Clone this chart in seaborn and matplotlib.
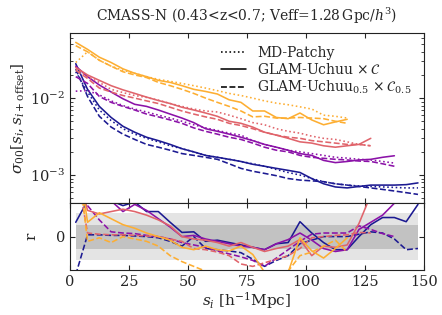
import numpy as np
import pandas as pd
import matplotlib
matplotlib.use("Agg")
import matplotlib.pyplot as plt
import seaborn as sns

sns.set_style("ticks")
plt.rcParams["font.family"] = ["DejaVu Serif"]
plt.rcParams["mathtext.fontset"] = "dejavuserif"
plt.rcParams["xtick.direction"] = "in"
plt.rcParams["ytick.direction"] = "in"
plt.rcParams["axes.edgecolor"] = "#222222"

# bin centres, one colour per offset (shorter curves for larger offsets)
s_blue = np.arange(2.5, 150, 5)
s_purple = np.arange(2.5, 140, 5)
s_pink = np.arange(2.5, 130, 5)
s_orange = np.arange(2.5, 120, 5)

colors = ["#1c1a92", "#8b12a8", "#e0646b", "#fdae32"]

# sigma_00 values
blue_patchy = [0.022, 0.012, 0.0070, 0.0051, 0.0040, 0.0034, 0.0030, 0.0027, 0.0024, 0.0022,
               0.0020, 0.0018, 0.0017, 0.0016, 0.0015, 0.00140, 0.00130, 0.00118, 0.00108, 0.00100,
               0.00090, 0.00082, 0.00077, 0.00074, 0.00072, 0.00071, 0.00070, 0.00069, 0.00068, 0.00068]
blue_glam = [0.028, 0.013, 0.0078, 0.0056, 0.0043, 0.0036, 0.0031, 0.0028, 0.0025, 0.0022,
             0.0020, 0.0018, 0.0017, 0.0016, 0.0015, 0.00138, 0.0013, 0.00122, 0.00115, 0.00108,
             0.00090, 0.00077, 0.00070, 0.00068, 0.00071, 0.00074, 0.00074, 0.00074, 0.00075, 0.00079]
blue_glam05 = [0.024, 0.0105, 0.0058, 0.0042, 0.0034, 0.0029, 0.0025, 0.0023, 0.0021, 0.0019,
               0.0018, 0.0017, 0.0016, 0.0014, 0.00122, 0.00112, 0.00105, 0.00098, 0.00090, 0.00086,
               0.00084, 0.00082, 0.00077, 0.00074, 0.00071, 0.00068, 0.00065, 0.00062, 0.00059, 0.00056]

purple_patchy = [0.0123, 0.0125, 0.011, 0.0092, 0.0080, 0.0072, 0.0066, 0.0060, 0.0055, 0.0050,
                 0.0045, 0.0041, 0.0038, 0.0035, 0.0033, 0.0028, 0.0025, 0.0023, 0.0021, 0.0020,
                 0.0019, 0.0018, 0.0017, 0.00166, 0.0016, 0.00157, 0.0015, 0.00143]
purple_glam = [0.026, 0.019, 0.0148, 0.012, 0.0098, 0.0083, 0.0078, 0.0070, 0.0062, 0.0055,
               0.0048, 0.0040, 0.0037, 0.0034, 0.0031, 0.0028, 0.0025, 0.0023, 0.0021, 0.0019,
               0.0018, 0.00155, 0.00145, 0.0015, 0.00157, 0.0016, 0.0017, 0.00178]
purple_glam05 = [0.019, 0.0155, 0.0105, 0.0088, 0.0078, 0.0070, 0.0062, 0.0057, 0.0052, 0.0047,
                 0.0041, 0.0037, 0.0034, 0.0031, 0.0029, 0.0026, 0.0023, 0.0021, 0.0020, 0.0018,
                 0.0017, 0.00165, 0.0016, 0.00157, 0.00152, 0.0015, 0.0014, 0.0013]

pink_patchy = [0.024, 0.019, 0.016, 0.013, 0.0118, 0.0108, 0.0102, 0.0094, 0.0085, 0.0078,
               0.0072, 0.0068, 0.0066, 0.0060, 0.0054, 0.0048, 0.0045, 0.0040, 0.0037, 0.0035,
               0.0032, 0.0030, 0.0029, 0.0027, 0.0025, 0.0024]
pink_glam = [0.025, 0.020, 0.017, 0.0145, 0.0128, 0.0115, 0.0103, 0.0093, 0.0085, 0.0076,
             0.0070, 0.0064, 0.0058, 0.0050, 0.0047, 0.0042, 0.0036, 0.0033, 0.0030, 0.0027,
             0.0026, 0.0024, 0.0023, 0.0024, 0.0025, 0.0030]
pink_glam05 = [0.023, 0.018, 0.0135, 0.012, 0.0108, 0.010, 0.0092, 0.0085, 0.0076, 0.0068,
               0.0062, 0.0057, 0.0053, 0.0047, 0.0044, 0.0040, 0.0036, 0.0033, 0.0031, 0.0030,
               0.0028, 0.0027, 0.0026, 0.0025, 0.0025, 0.0024]

orange_patchy = [0.029, 0.040, 0.031, 0.026, 0.023, 0.021, 0.019, 0.0175, 0.0165, 0.0155,
                 0.0145, 0.0135, 0.0125, 0.0115, 0.0108, 0.0100, 0.0092, 0.0086, 0.0082, 0.0077,
                 0.0072, 0.0060, 0.0058, 0.0055]
orange_glam = [0.053, 0.043, 0.034, 0.029, 0.024, 0.021, 0.019, 0.017, 0.016, 0.0145,
               0.013, 0.0122, 0.0113, 0.0095, 0.0088, 0.0068, 0.0068, 0.0056, 0.0054, 0.0064,
               0.0052, 0.0045, 0.0049, 0.0053]
orange_glam05 = [0.048, 0.040, 0.031, 0.026, 0.022, 0.020, 0.0185, 0.016, 0.0145, 0.013,
                 0.0115, 0.010, 0.0088, 0.0078, 0.0068, 0.0057, 0.0058, 0.0055, 0.0055, 0.0056,
                 0.0055, 0.0054, 0.0050, 0.0047]

# residuals r vs MD-Patchy (solid: GLAM-Uchuu, dashed: GLAM-Uchuu_0.5)
blue_r = [1.2, 3.0, 3.2, 3.0, 2.6, 2.9, 2.1, 2.1, 1.2, 0.35,
          0.4, -0.4, -0.3, -0.5, -0.7, -0.9, -1.1, -0.6, -0.5, 1.25,
          0.3, -0.5, -1.1, -1.1, 0.0, 1.0, 1.6, 1.6, 1.25, 2.7]
blue_r05 = [-3.2, 0.15, 0.15, 0.1, 0.1, 0.05, 0.0, -0.1, -0.4, -0.8,
            0.0, -1.0, -1.1, -1.2, -1.35, -1.9, -2.5, -2.0, -1.6, -0.6,
            -0.3, 0.0, 0.0, 0.0, 0.2, 0.4, 0.3, -0.2, -1.1, -1.0]
purple_r = [4.0, 4.0, 3.5, 3.0, 2.1, 2.7, 2.2, 1.5, 0.8, 0.0,
            0.1, -0.2, -0.4, -0.6, -0.8, -0.9, -1.1, -0.6, -0.25, 0.3,
            -0.3, -1.0, -1.25, -1.1, 0.6, 1.2, 1.8, 2.8]
purple_r05 = [4.5, 2.6, 1.4, 0.4, 0.3, 0.25, 0.1, 0.0, -0.2, -0.5,
              -0.7, -0.9, -1.2, -1.45, -1.7, -2.0, -2.5, -1.8, -1.1, -0.4,
              0.2, 0.3, 0.3, 0.3, 0.9, 0.6, 0.25, 0.0]
pink_r = [6.0, 2.2, 1.9, 2.1, 2.3, 2.1, 1.8, 1.4, 0.9, 0.0,
          -0.2, -0.3, -0.5, -0.8, -0.5, -0.9, -1.25, -1.0, -0.8, -0.25,
          -1.6, -0.8, -0.9, -0.7, 1.1, 3.5]
pink_r05 = [6.0, 0.3, 0.2, 0.15, 0.15, 0.1, 0.05, 0.0, -0.2, -0.4,
            -1.0, -1.1, -1.3, -1.6, -2.3, -2.5, -2.2, -1.9, -1.6, -1.0,
            -0.1, 0.0, 0.1, 0.15, 0.35, 0.3]
orange_r = [8.0, 1.2, 2.0, 1.5, 1.0, 0.7, 0.3, 0.0, -0.3, -0.9,
            -1.1, -0.8, -1.1, -1.2, -0.8, -1.5, -3.0, -3.5, -3.0, -0.1,
            -1.2, -1.8, -1.0, -0.1]
orange_r05 = [8.0, -0.4, -0.1, -0.5, 0.0, -0.2, -0.4, -0.8, -1.6, -2.1,
              -2.5, -2.9, -3.2, -3.4, -3.5, -3.6, -3.5, -3.2, -2.9, -1.6,
              -1.3, -0.8, -0.3, -1.3]

groups = [
    (s_blue, blue_patchy, blue_glam, blue_glam05, blue_r, blue_r05),
    (s_purple, purple_patchy, purple_glam, purple_glam05, purple_r, purple_r05),
    (s_pink, pink_patchy, pink_glam, pink_glam05, pink_r, pink_r05),
    (s_orange, orange_patchy, orange_glam, orange_glam05, orange_r, orange_r05),
]

fig = plt.figure(figsize=(4.42, 3.15), dpi=100)
gs = fig.add_gridspec(2, 1, height_ratios=[2.55, 1], hspace=0,
                      left=0.158, right=0.959, top=0.895, bottom=0.143)
ax = fig.add_subplot(gs[0])
axr = fig.add_subplot(gs[1], sharex=ax)

lw = 1.15
for (s, pat, gl, gl05, r, r05), c in zip(groups, colors):
    sns.lineplot(x=s, y=pat, ax=ax, color=c, linestyle=":", lw=lw)
    sns.lineplot(x=s, y=gl, ax=ax, color=c, linestyle="-", lw=lw)
    sns.lineplot(x=s, y=gl05, ax=ax, color=c, linestyle="--", lw=lw)
    sns.lineplot(x=s, y=r, ax=axr, color=c, linestyle="-", lw=lw)
    sns.lineplot(x=s, y=r05, ax=axr, color=c, linestyle="--", lw=lw)

ax.set_yscale("log")
ax.set_xlim(0, 150)
ax.set_ylim(4.3e-4, 7.0e-2)
ax.set_ylabel(r"$\sigma_{00}[s_i,s_{i+\rm offset}]$", fontsize=11, labelpad=2)
ax.tick_params(which="both", top=True, right=True, labelbottom=False, labelsize=10.5)
ax.set_title(r"CMASS-N (0.43<z<0.7; Veff=1.28$\,$Gpc/$h^3$)", fontsize=10, pad=9)

handles = [
    plt.Line2D([], [], color="k", ls=":", lw=lw, label="MD-Patchy"),
    plt.Line2D([], [], color="k", ls="-", lw=lw, label=r"GLAM-Uchuu $\times\, \mathcal{C}$"),
    plt.Line2D([], [], color="k", ls="--", lw=lw, label=r"GLAM-Uchuu$_{0.5}$ $\times\, \mathcal{C}_{0.5}$"),
]
ax.legend(handles=handles, loc="upper right", frameon=False, fontsize=10,
          handlelength=1.8, labelspacing=0.15, borderaxespad=0.5)

band_x = [2.5, 147.5]
axr.fill_between(band_x, -2, 2, color="#e4e4e4", lw=0, zorder=0)
axr.fill_between(band_x, -1, 1, color="#c2c2c2", lw=0, zorder=0)
axr.set_ylim(-2.8, 2.8)
axr.set_yticks([0])
axr.set_xticks([0, 25, 50, 75, 100, 125, 150])
axr.set_ylabel("r", fontsize=11, labelpad=12)
axr.set_xlabel(r"$s_i$ [h$^{-1}$Mpc]", fontsize=11, labelpad=1)
axr.tick_params(which="both", top=True, right=True, labelsize=10.5)

fig.savefig("out.png", dpi=100)
